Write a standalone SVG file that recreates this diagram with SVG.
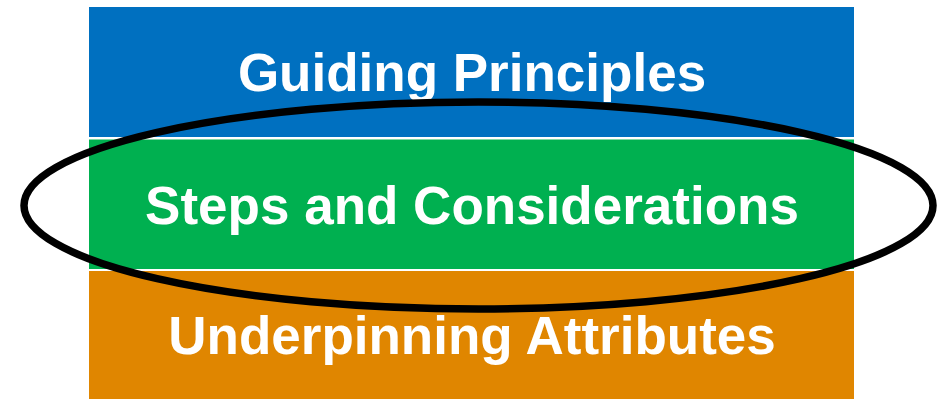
<svg xmlns="http://www.w3.org/2000/svg" width="937" height="399" viewBox="0 0 937 399">
  <style>
    .bar-label { font-family: "Liberation Sans", Arial, sans-serif; font-weight: bold; font-size: 53px; fill: #ffffff; text-anchor: middle; }
  </style>
  <rect width="937" height="399" fill="#ffffff"/>
  <g id="guiding-principles">
    <rect x="89" y="7" width="765" height="130" fill="#0070C0"/>
    <text class="bar-label" x="472" y="91">Guiding Principles</text>
  </g>
  <g id="steps-and-considerations">
    <rect x="89" y="139.5" width="765" height="129.5" fill="#00B050"/>
    <text class="bar-label" x="472" y="224">Steps and Considerations</text>
  </g>
  <g id="underpinning-attributes">
    <rect x="89" y="271" width="765" height="130" fill="#E08600"/>
    <text class="bar-label" x="472" y="354">Underpinning Attributes</text>
  </g>
  <g id="connectors">
    <ellipse id="highlight" cx="478.5" cy="205.5" rx="454.5" ry="103.5" fill="none" stroke="#000000" stroke-width="7.5"/>
  </g>
</svg>
